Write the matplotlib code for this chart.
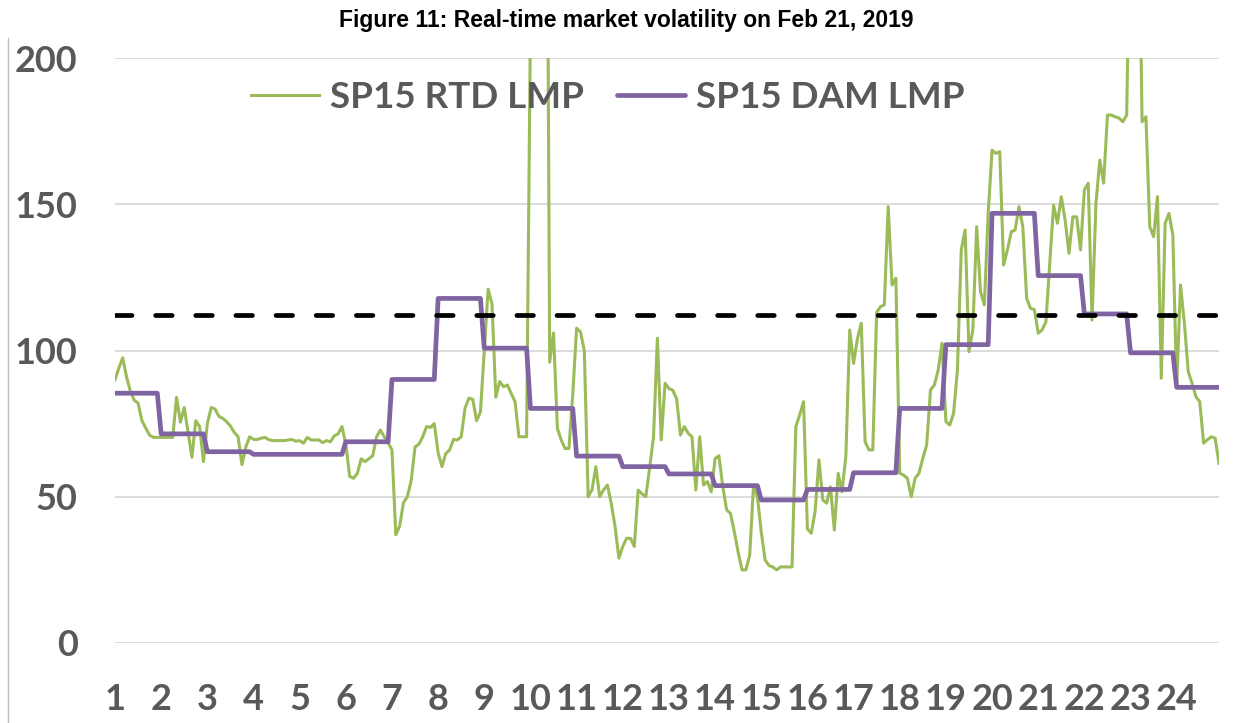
import numpy as np
import matplotlib
matplotlib.use("Agg")
import matplotlib.pyplot as plt
from matplotlib.lines import Line2D

# данные: 5-минутные цены RTD (288 точек) и почасовые DAM
hours = list(range(1, 25))
dam_lmp = [85.4, 71.5, 65.4, 64.5, 64.5, 68.8, 90.1, 117.8, 100.8, 80.2, 63.9, 60.3,
           57.8, 53.8, 48.9, 52.5, 58.2, 80.2, 102.0, 146.9, 125.6, 112.5, 99.2, 87.4]
rtd_lmp = [
    90, 94, 97.5, 91, 86, 83, 82, 76, 73.5, 71, 70.3, 70.3,                       # 1
    70.3, 70.3, 70.3, 70.3, 84, 75.5, 80.5, 72, 63.5, 76, 74, 62,                  # 2
    75, 80.5, 80, 77.5, 76.8, 75.7, 74.2, 72, 70.5, 61, 67, 70.5,                  # 3
    69.6, 69.6, 70, 70.3, 69.5, 69.2, 69.2, 69.2, 69.2, 69.4, 69.6, 69,            # 4
    69.2, 68.3, 70.3, 69.4, 69.4, 69.4, 68.5, 69.2, 68.8, 70.8, 71.5, 74,          # 5
    68, 57, 56.3, 58, 63, 62, 63, 64, 70.5, 72.8, 70.5, 68.5,                      # 6
    66, 37, 40, 48, 50, 55.5, 67, 68, 70.5, 74, 73.7, 75,                          # 7
    65, 60.3, 64.8, 66, 69.6, 69.4, 70.5, 80.3, 83.7, 83.3, 76, 79,                # 8
    100, 121, 116, 84, 89.4, 87.6, 88.2, 85.3, 82.5, 70.5, 70.5, 70.5,             # 9
    215, 300, 320, 330, 360, 96, 106, 73.4, 69.4, 66.5, 66.5, 85,                  # 10
    107.6, 106.4, 100, 50, 52.3, 60.3, 50, 52.3, 54, 47.8, 39.8, 29,               # 11
    33, 35.8, 35.8, 33, 52.3, 51, 50, 60, 70.5, 104.2, 69.4, 88.8,                 # 12
    87, 86.4, 83.5, 71.1, 74, 71.7, 70.5, 52.3, 70.5, 54, 55.2, 51.7,              # 13
    63, 64, 53.5, 45.5, 44.3, 38, 31, 25, 25, 30, 54, 50,                          # 14
    38, 28.4, 26.5, 26, 25, 26, 26, 26, 26, 74, 78, 82.5,                          # 15
    39, 37.5, 45, 62.6, 48.9, 47.8, 53.4, 38.6, 58, 51.7, 64, 107,                 # 16
    95.6, 104, 109.3, 68.8, 66, 66, 113, 115, 115.6, 149.2, 122.4, 124.7,          # 17
    58, 57.4, 56.3, 50, 56.3, 58, 63.1, 67.7, 86.5, 88.2, 93.3, 102.5,             # 18
    75.7, 74.5, 78.5, 93.3, 134.4, 141.2, 99.6, 107, 142.3, 120.1, 115.6, 146.9,   # 19
    168.5, 167.4, 168, 129.2, 134.4, 140.6, 141.2, 149.2, 142.3, 117.8, 114.4, 114,  # 20
    105.9, 107, 109.8, 129.8, 149.7, 143.5, 152.6, 144.6, 133.2, 145.7, 145.7, 134.4,  # 21
    154.9, 157.2, 110.4, 150, 165.1, 157.2, 180.5, 180.5, 179.9, 179.5, 178.2, 180.5,  # 22
    260, 290, 270, 178.2, 179.9, 142.3, 138.9, 152.6, 90.5, 143.5, 146.9, 139.5,   # 23
    87.6, 122.4, 109.3, 92.8, 88.8, 84.2, 82.5, 68.3, 69.5, 70.5, 70, 61.4,        # 24
]
threshold = 112
y_ticks = [0, 50, 100, 150, 200]
title = "Figure 11: Real-time market volatility on Feb 21, 2019"

GREEN = "#9BBB59"
PURPLE = "#8064A2"
GRAY_TXT = "#595959"
W, H = 1252, 723

x = np.arange(len(rtd_lmp))
dam = np.repeat(dam_lmp, 12)

fig = plt.figure(figsize=(W / 100, H / 100), dpi=100)
ax = fig.add_axes([115 / W, 1 - 643 / H, 1104 / W, 585 / H])

ax.plot(x, rtd_lmp, color=GREEN, lw=2.2, solid_joinstyle="round", label="SP15 RTD LMP", zorder=3)
ax.plot(x, dam, color=PURPLE, lw=3.4, solid_joinstyle="round", solid_capstyle="round",
        label="SP15 DAM LMP", zorder=4)
ax.axhline(threshold, color="black", lw=3.4, dashes=(3.5, 5), dash_capstyle="round", zorder=5)

ax.set_xlim(0, len(rtd_lmp) - 1)
ax.set_ylim(0, 200)
ax.set_yticks(y_ticks)
ax.set_xticks(x[::12])
ax.set_xticklabels([str(h) for h in hours])
ax.grid(axis="y", color="#D9D9D9", lw=1.3)
ax.set_axisbelow(True)
for s in ax.spines.values():
    s.set_visible(False)

ax.tick_params(axis="both", length=0, labelcolor=GRAY_TXT)
ax.tick_params(axis="y", pad=27)
ax.tick_params(axis="x", pad=29)
for lab in ax.get_xticklabels() + ax.get_yticklabels():
    lab.set_fontfamily("Lato")
    lab.set_fontweight("bold")
    lab.set_fontsize(26)

leg = ax.legend(loc="center", bbox_to_anchor=(608 / W, 1 - 97 / H), bbox_transform=fig.transFigure,
                ncol=2, frameon=False, prop={"family": "Lato", "weight": "bold", "size": 26.5},
                handlelength=1.85, handletextpad=0.3, columnspacing=0.9, labelcolor=GRAY_TXT)

fig.text(0.5, 1 - 20 / H, title, ha="center", va="center", fontsize=16.5,
         fontweight="bold", family="Liberation Sans")

# рамка слева
fig.add_artist(Line2D([8 / W, 8 / W], [0, 1 - 38 / H], color="#BFBFBF", lw=1))

fig.savefig("out.png", dpi=100)
